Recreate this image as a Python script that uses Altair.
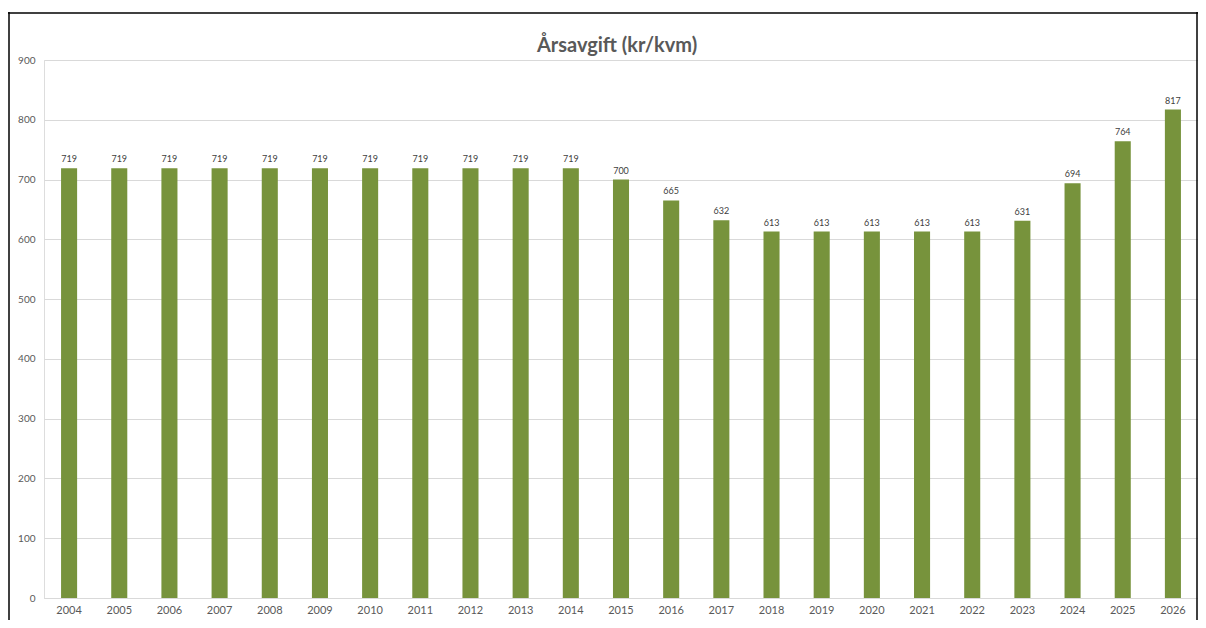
import altair as alt
import pandas as pd

years = [str(y) for y in range(2004, 2027)]
values = [719, 719, 719, 719, 719, 719, 719, 719, 719, 719, 719,
          700, 665, 632, 613, 613, 613, 613, 613, 631, 694, 764, 817]
title_text = "Årsavgift (kr/kvm)"
y_ticks = [0, 100, 200, 300, 400, 500, 600, 700, 800, 900]

df = pd.DataFrame({"year": years, "value": values})

W, H = 1154, 538
FONT = "Lato"

base = alt.Chart(df)

x_enc = alt.X("year:N", sort=years, title=None,
              scale=alt.Scale(paddingInner=0.68, paddingOuter=0.34),
              axis=alt.Axis(labelAngle=0, labelFontSize=11, labelColor="#595959",
                            labelFont=FONT, labelPadding=6, ticks=False,
                            domainColor="#d9d9d9", grid=False))
y_enc = alt.Y("value:Q", title=None,
              scale=alt.Scale(domain=[0, 900], nice=False),
              axis=alt.Axis(values=y_ticks, labelFontSize=10, labelColor="#595959",
                            labelFont=FONT, labelPadding=9, ticks=False, domain=False,
                            gridColor="#d9d9d9", gridWidth=1))

bars = base.mark_bar(color="#77933C").encode(x=x_enc, y=y_enc)

labels = base.mark_text(dy=-9, fontSize=9, color="#404040", font=FONT).encode(
    x=alt.X("year:N", sort=years),
    y=alt.Y("value:Q"),
    text=alt.Text("value:Q"),
)

frame_data = alt.Data(values=[{"t": title_text}])
title_mark = alt.Chart(frame_data).mark_text(
    fontSize=20, font=FONT, fontWeight="bold", color="#595959",
    align="center", baseline="middle").encode(
    x=alt.value(W / 2 - 4), y=alt.value(-14), text="t:N")
left_border = alt.Chart(frame_data).mark_rule(color="#000000", strokeWidth=1.5).encode(
    x=alt.value(-35), y=alt.value(-48), y2=alt.value(H + 30))
top_border = alt.Chart(frame_data).mark_rule(color="#000000", strokeWidth=1.5).encode(
    x=alt.value(-36), x2=alt.value(W), y=alt.value(-47))
right_border = alt.Chart(frame_data).mark_rule(color="#000000", strokeWidth=1.5).encode(
    x=alt.value(W - 1), y=alt.value(-48), y2=alt.value(H + 30))

chart = alt.layer(bars, labels, title_mark, left_border, top_border, right_border).properties(
    width=W, height=H,
    autosize=alt.AutoSizeParams(type="none"),
    padding={"left": 36, "top": 52, "right": 0, "bottom": 22},
).configure_view(stroke=None).configure(background="white")

chart.save("out.html", embed_options={"renderer": "svg", "actions": False})
